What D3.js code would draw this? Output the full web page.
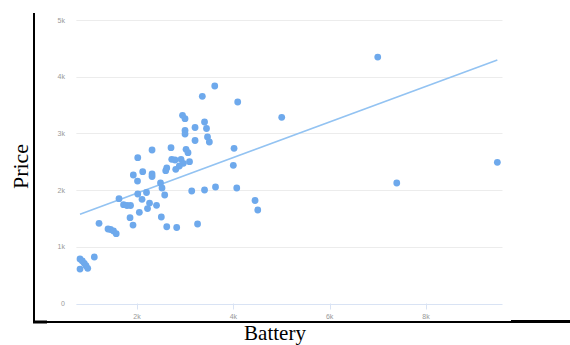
<!DOCTYPE html>
<html>
<head>
<meta charset="utf-8">
<script src="https://cdn.jsdelivr.net/npm/d3@7"></script>
<style>
  html, body { margin: 0; padding: 0; background: #fff; }
  svg { display: block; }
</style>
</head>
<body>
<svg id="chart" width="570" height="345"></svg>
<script>
// ---- data (battery mAh, price) ----
const battery = [816, 864, 905, 941, 976, 816, 1113,
  1211, 1398, 1450, 1512, 1568,
  1626, 1720, 1792, 1865, 1855, 1917, 2048, 2015, 2104, 2197, 2260, 2218, 2405, 2505, 2617, 2824,
  2010, 2488, 2519, 2575, 2015, 2312, 2118, 1923, 2312, 2312, 3257,
  2706, 2721, 2789, 2914, 2879, 2962, 2804, 2617, 2596,
  3136, 3402, 3630, 4071,
  2945, 2997, 2997, 2997, 3205, 3402, 3443, 3464, 3502, 3205, 3018, 3059, 3090,
  3614, 3356, 4091, 4015, 4000, 4451, 4507, 5005, 6999, 9483, 7394];
const price = [785, 750, 709, 667, 621, 608, 820,
  1414, 1314, 1305, 1279, 1231,
  1848, 1743, 1728, 1728, 1513, 1384, 1608, 1931, 1838, 1958, 1772, 1675, 1732, 1526, 1354, 1340,
  2160, 2125, 2037, 1914, 2571, 2707, 2325, 2266, 2284, 2240, 1402,
  2748, 2543, 2531, 2543, 2425, 2473, 2367, 2390, 2342,
  1984, 2002, 2055, 2037,
  3319, 3259, 3051, 2989, 3104, 3201, 3086, 2937, 2848, 2875, 2720, 2660, 2501,
  3836, 3654, 3554, 2737, 2437, 1817, 1649, 3284, 4347, 2490, 2125];
const trendPrice = [1573, 4295];           // fitted line at min / max battery
const yTicks = [0, 1000, 2000, 3000, 4000, 5000];
const yTickLabels = ["0", "1k", "2k", "3k", "4k", "5k"];
const xTicks = [2000, 4000, 6000, 8000];
const xTickLabels = ["2k", "4k", "6k", "8k"];

// ---- layout ----
const svg = d3.select("#chart");
const x = d3.scaleLinear().domain([741, 9590]).range([76.4, 502.5]);
const y = d3.scaleLinear().domain([0, 5000]).range([303.5, 20]);

// gridlines
svg.append("g").selectAll("line").data(yTicks).join("line")
  .attr("x1", x.range()[0]).attr("x2", x.range()[1])
  .attr("y1", d => Math.round(y(d)) + 0.5).attr("y2", d => Math.round(y(d)) + 0.5)
  .attr("stroke", d => d === 0 ? "#d9e3f4" : "#ececec").attr("stroke-width", 1);

// y tick labels
svg.append("g").selectAll("text").data(yTicks).join("text")
  .attr("x", 65).attr("y", d => y(d) + 2.5)
  .attr("text-anchor", "end")
  .attr("font-family", "Liberation Sans, Arial, sans-serif")
  .attr("font-size", 7).attr("fill", "#999")
  .text((d, i) => yTickLabels[i]);

// x ticks
const xt = svg.append("g").selectAll("g").data(xTicks).join("g");
xt.append("line")
  .attr("x1", d => Math.round(x(d)) + 0.5).attr("x2", d => Math.round(x(d)) + 0.5)
  .attr("y1", y(0)).attr("y2", y(0) + 6)
  .attr("stroke", "#d9e3f4");
xt.append("text")
  .attr("x", d => x(d)).attr("y", 318.5)
  .attr("text-anchor", "middle")
  .attr("font-family", "Liberation Sans, Arial, sans-serif")
  .attr("font-size", 7).attr("fill", "#999")
  .text((d, i) => xTickLabels[i]);

// trend line
const ext = d3.extent(battery);
svg.append("path")
  .datum([[ext[0], trendPrice[0]], [ext[1], trendPrice[1]]])
  .attr("d", d3.line().x(d => x(d[0])).y(d => y(d[1])))
  .attr("fill", "none").attr("stroke", "#93c3f2").attr("stroke-width", 1.6);

// points
svg.append("g").selectAll("circle").data(battery.map((b, i) => [b, price[i]])).join("circle")
  .attr("cx", d => x(d[0])).attr("cy", d => y(d[1]))
  .attr("r", 3.4).attr("fill", "#6ea9ec");

// frame lines
svg.append("rect").attr("x", 33).attr("y", 13).attr("width", 2).attr("height", 310).attr("fill", "#000");
svg.append("rect").attr("x", 33).attr("y", 321).attr("width", 537).attr("height", 2).attr("fill", "#000");
svg.append("rect").attr("x", 33).attr("y", 320.5).attr("width", 14).attr("height", 3).attr("fill", "#000");
svg.append("rect").attr("x", 511).attr("y", 320).attr("width", 59).attr("height", 3).attr("fill", "#000");

// axis titles
svg.append("text")
  .attr("x", 275).attr("y", 340)
  .attr("text-anchor", "middle")
  .attr("font-family", "Liberation Serif, Times New Roman, serif")
  .attr("font-size", 21).attr("fill", "#000")
  .text("Battery");
svg.append("text")
  .attr("transform", "translate(28,166.5) rotate(-90)")
  .attr("text-anchor", "middle")
  .attr("font-family", "Liberation Serif, Times New Roman, serif")
  .attr("font-size", 22).attr("fill", "#000")
  .text("Price");
</script>
</body>
</html>
